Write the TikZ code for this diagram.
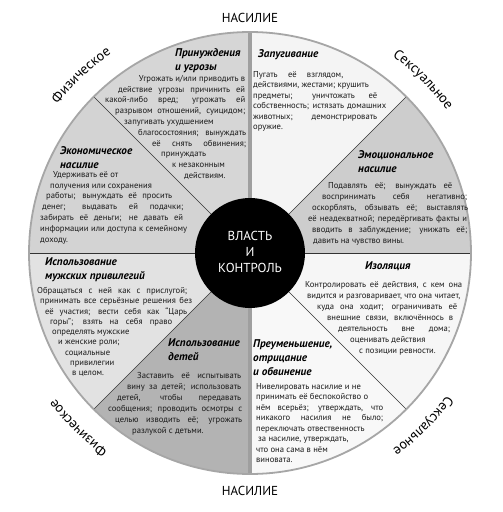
\documentclass[tikz,border=0pt]{standalone}
\usepackage{fontspec}
\setmainfont{PT Sans}
\usetikzlibrary{decorations.text}
\definecolor{coerceFill}{HTML}{D6D6D6}
\definecolor{threatFill}{HTML}{F4F4F4}
\definecolor{emoFill}{HTML}{CDCDCD}
\definecolor{isoFill}{HTML}{F6F6F6}
\definecolor{minFill}{HTML}{F8F8F8}
\definecolor{childFill}{HTML}{B3B3B3}
\definecolor{privFill}{HTML}{E2E2E2}
\definecolor{econFill}{HTML}{D3D3D3}
% one printed line: justified between two offsets, or started at an offset
\newcommand\jline[3]{\rule{0pt}{6pt}\hspace*{#1pt}\makebox[\dimexpr#2pt-#1pt\relax][s]{#3}}
\newcommand\lline[2]{\rule{0pt}{6pt}\hspace*{#1pt}#2}
\newcommand\rline[2]{\rule{0pt}{6pt}\makebox[#1pt][r]{#2}}
\newcommand\ringfont{\fontsize{14}{14}\selectfont}

\begin{document}
\begin{tikzpicture}[x=1pt,y=1pt,
  title/.style={font=\fontsize{11.2}{14}\selectfont\bfseries\itshape,align=left,inner sep=0pt,anchor=north west,text=black},
  body/.style={font=\fontsize{8.6}{10.8}\selectfont,align=left,inner sep=0pt,anchor=north west,text=black!90},
  head/.style={font=\fontsize{13}{13}\selectfont,inner sep=0pt},
  spoke/.style={draw=black!80,line width=0.6pt},
  bar/.style={draw=gray!75,line width=3.2pt}
]
\fill[white] (-250,-259) rectangle (253,253);
\useasboundingbox (-250,-259) rectangle (253,253);
% eight sectors, counter-clockwise from the top
\foreach \a/\c in {90/coerceFill,45/threatFill,0/emoFill,-45/isoFill,-90/minFill,-135/childFill,-180/privFill,135/econFill}
  \fill[\c] (0,0) -- (\a:221) arc[start angle=\a,delta angle=45,radius=221] -- cycle;
\foreach \a in {0,45,135,180,225,315}
  \draw[spoke] (\a:55) -- (\a:221);
\foreach \a in {90,270}
  \draw[bar] (\a:55) -- (\a:221);
\draw[gray!70,line width=1.8pt] (0,0) circle[radius=221];
\fill[black] (0,0) circle[radius=55];
\node[head,text=white,align=center,font=\fontsize{13}{16}\selectfont] (core) at (0,1) {ВЛАСТЬ\\И\\КОНТРОЛЬ};

% outer labels
\node[head] (topLabel) at (0,235) {НАСИЛИЕ};
\node[head] (bottomLabel) at (0,-238) {НАСИЛИЕ};
\path[decorate,decoration={text along path,text align=center,text={|\ringfont|Физическое}}]
  (143:243) arc[start angle=143,end angle=124,radius=243];
\path[decorate,decoration={text along path,text align=center,text={|\ringfont|Сексуальное}}]
  (56:243) arc[start angle=56,end angle=34,radius=243];
\path[decorate,decoration={text along path,text align=center,text={|\ringfont|Физическое}}]
  (235:243) arc[start angle=235,end angle=216,radius=243];
\path[decorate,decoration={text along path,text align=center,text={|\ringfont|Сексуальное}}]
  (-34:243) arc[start angle=-34,end angle=-56,radius=243];

% coercion and threats
\node[title] (coerceT) at (-75,205) {Принуждения\\и угрозы};
\node[body] (coerceB) at (-145,178) {\rline{140}{Угрожать и/или приводить в}\\
\jline{13}{140}{действие угрозы причинить ей}\\
\jline{0}{140}{какой-либо вред; угрожать ей}\\
\jline{10}{140}{разрывом отношений, суицидом;}\\
\lline{19}{запугивать ухудшением}\\
\jline{33}{141}{благосостояния; вынуждать}\\
\jline{47}{141}{её снять обвинения;}\\
\lline{56}{принуждать}\\
\lline{67}{к незаконным}\\
\lline{79}{действиям.}};

% intimidation
\node[title] (threatT) at (8,204) {Запугивание};
\node[body,font=\fontsize{8.6}{10.5}\selectfont] (threatB) at (3,182) {\jline{0}{90}{Пугать её взглядом,}\\
\lline{0}{действиями, жестами; крушить}\\
\jline{0}{124}{предметы; уничтожать её}\\
\jline{0}{133}{собственность; истязать домашних}\\
\jline{0}{124}{животных; демонстрировать}\\
\lline{0}{оружие.}};

% emotional abuse
\node[title] (emoT) at (108,103) {Эмоциональное\\насилие};
\node[body,font=\fontsize{8.6}{11}\selectfont] (emoB) at (58,71) {\jline{20}{144}{Подавлять её; вынуждать её}\\
\jline{14}{159}{воспринимать себя негативно;}\\
\jline{4}{160}{оскорблять, обзывать её; выставлять}\\
\jline{0}{159}{её неадекватной; передёргивать факты и}\\
\jline{4}{159}{вводить в заблуждение; унижать её;}\\
\lline{5}{давить на чувство вины.}};

% isolation
\node[title] (isoT) at (115,-8) {Изоляция};
\node[body,font=\fontsize{8.6}{11}\selectfont] (isoB) at (55,-28) {\jline{0}{157}{Контролировать её действия, с кем она}\\
\jline{2}{155}{видится и разговаривает, что она читает,}\\
\jline{12}{152}{куда она ходит; ограничивать её}\\
\jline{22}{148}{внешние связи, включённось в}\\
\jline{33}{145}{деятельность вне дома;}\\
\lline{45}{оценивать действия}\\
\lline{54}{с позиции ревности.}};

% minimizing, denying and blaming
\node[title] (minT) at (3,-86) {Преуменьшение,\\отрицание\\и обвинение};
\node[body,font=\fontsize{8.6}{10.5}\selectfont] (minB) at (6,-130) {\lline{0}{Нивелировать насилие и не}\\
\lline{0}{принимать её беспокойство о}\\
\jline{0}{127}{нём всерьёз; утверждать, что}\\
\jline{0}{127}{никакого насилия не было;}\\
\lline{0}{переключать отвественность}\\
\lline{2}{за насилие, утверждать,}\\
\lline{0}{что она сама в нём}\\
\lline{0}{виновата.}};

% using children
\node[title] (childT) at (-82,-85) {Использование\\детей};
\node[body,font=\fontsize{8.6}{11}\selectfont] (childB) at (-142,-119) {\jline{29}{133}{Заставить её испытывать}\\
\jline{19}{133}{вину за детей; использовать}\\
\jline{9}{133}{детей, чтобы передавать}\\
\jline{0}{134}{сообщения; проводить осмотры с}\\
\jline{7}{134}{целью изводить её; угрожать}\\
\lline{24}{разлукой с детьми.}};

% male privilege
\node[title] (privT) at (-205,-4) {Использование\\мужских привилегий};
\node[body,font=\fontsize{8.6}{10.3}\selectfont] (privB) at (-213,-34) {\jline{0}{150}{Обращаться с ней как с прислугой;}\\
\jline{3}{155}{принимать все серьёзные решения без}\\
\jline{8}{150}{её участия; вести себя как “Царь}\\
\jline{13}{135}{горы”; взять на себя право}\\
\lline{15}{определять мужские}\\
\lline{21}{и женские роли;}\\
\lline{28}{социальные}\\
\lline{33}{привилегии}\\
\lline{35}{в целом.}};

% economic abuse
\node[title] (econT) at (-190,107) {Экономическое\\насилие};
\node[body] (econB) at (-210,82) {\lline{13}{Удерживать её от}\\
\lline{10}{получения или сохранения}\\
\jline{6}{132}{работы; вынуждать её просить}\\
\jline{2}{143}{денег; выдавать ей подачки;}\\
\jline{0}{143}{забирать её деньги; не давать ей}\\
\jline{0}{147}{информации или доступа к семейному}\\
\lline{0}{доходу.}};
\end{tikzpicture}
\end{document}
